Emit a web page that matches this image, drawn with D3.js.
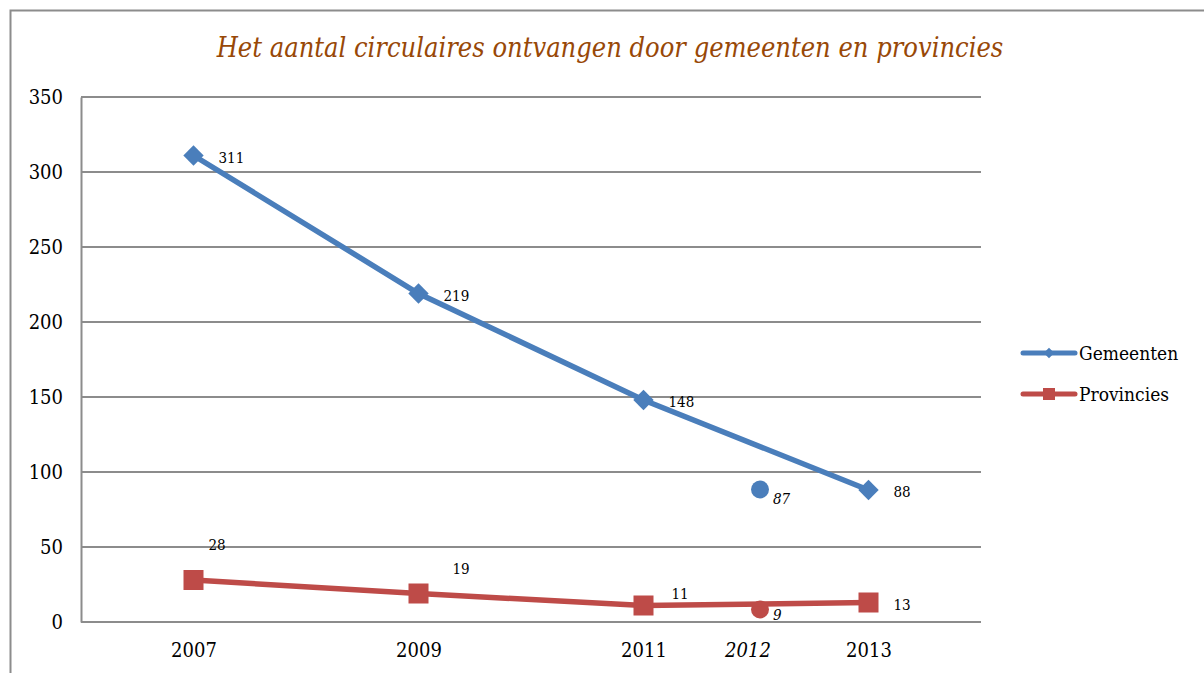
<!DOCTYPE html>
<html>
<head>
<meta charset="utf-8">
<script src="https://cdn.jsdelivr.net/npm/d3@7"></script>
<style>
  body { margin: 0; background: #fff; }
  svg text { font-family: "DejaVu Serif Condensed", "DejaVu Serif", serif; fill: #000; }
</style>
</head>
<body>
<div id="chart"></div>
<script>
const years = [2007, 2009, 2011, 2013];
const gemeenten = [311, 219, 148, 88];
const provincies = [28, 19, 11, 13];
const extraYear = 2012;
const extraGemeenten = 87;
const extraProvincies = 9;
const yTicks = [0, 50, 100, 150, 200, 250, 300, 350];
const seriesNames = ["Gemeenten", "Provincies"];

const width = 1204, height = 673;
const margin = { top: 97, right: 223, bottom: 51, left: 81 };

const svg = d3.select("#chart").append("svg")
    .attr("width", width)
    .attr("height", height);

// outer frame (only top and left edges are visible)
svg.append("path")
    .attr("d", `M10.5,${height} L10.5,10.5 L${width},10.5`)
    .attr("fill", "none")
    .attr("stroke", "#8c8c8c")
    .attr("stroke-width", 2);

svg.append("text")
    .attr("x", 610)
    .attr("y", 57)
    .attr("text-anchor", "middle")
    .attr("font-style", "italic")
    .attr("font-size", 27)
    .style("fill", "#984807")
    .text("Het aantal circulaires ontvangen door gemeenten en provincies");

const x = d3.scaleLinear()
    .domain([2006, 2014])
    .range([margin.left, width - margin.right]);

const y = d3.scaleLinear()
    .domain([0, 350])
    .range([height - margin.bottom, margin.top]);

// gridlines
svg.append("g")
    .selectAll("line")
    .data(yTicks)
    .join("line")
    .attr("x1", margin.left)
    .attr("x2", width - margin.right)
    .attr("y1", d => y(d))
    .attr("y2", d => y(d))
    .attr("stroke", "#8c8c8c")
    .attr("stroke-width", 2);

// y axis
const yAxis = svg.append("g")
    .attr("transform", `translate(${margin.left},0)`)
    .call(d3.axisLeft(y).tickValues(yTicks).tickSize(0).tickPadding(18));
yAxis.select(".domain").attr("stroke", "#8c8c8c").attr("stroke-width", 2);
yAxis.selectAll("text").attr("font-size", 20).style("font-family", null);

// x axis
const xAxis = svg.append("g")
    .attr("transform", `translate(0,${y(0)})`)
    .call(d3.axisBottom(x).tickValues(years).tickFormat(d3.format("d")).tickSize(0).tickPadding(21));
xAxis.select(".domain").remove();
xAxis.selectAll("text").attr("font-size", 20).style("font-family", null);

svg.append("text")
    .attr("x", x(extraYear) - 8)
    .attr("y", y(0) + 35)
    .attr("text-anchor", "middle")
    .attr("font-size", 20)
    .attr("font-style", "italic")
    .text(extraYear);

const colors = ["#4a7ebb", "#be4b48"];
const line = d3.line()
    .x((d, i) => x(years[i]))
    .y(d => y(d));

// extra 2012 points (drawn under the lines)
svg.append("circle")
    .attr("cx", x(extraYear) + 4)
    .attr("cy", y(extraGemeenten) - 2)
    .attr("r", 9)
    .attr("fill", colors[0]);
svg.append("circle")
    .attr("cx", x(extraYear) + 4)
    .attr("cy", y(extraProvincies) + 1)
    .attr("r", 9)
    .attr("fill", colors[1]);

[gemeenten, provincies].forEach((vals, s) => {
    svg.append("path")
        .datum(vals)
        .attr("fill", "none")
        .attr("stroke", colors[s])
        .attr("stroke-width", 5.5)
        .attr("d", line);
});

// markers
svg.append("g")
    .selectAll("rect")
    .data(gemeenten)
    .join("rect")
    .attr("x", -10)
    .attr("y", -10)
    .attr("width", 20)
    .attr("height", 20)
    .attr("fill", colors[0])
    .attr("transform", (d, i) => `translate(${x(years[i])},${y(d)}) rotate(45) scale(0.72)`);

svg.append("g")
    .selectAll("rect")
    .data(provincies)
    .join("rect")
    .attr("x", (d, i) => x(years[i]) - 10)
    .attr("y", d => y(d) - 10)
    .attr("width", 20)
    .attr("height", 20)
    .attr("fill", colors[1]);

// data labels
svg.append("g")
    .selectAll("text")
    .data(gemeenten)
    .join("text")
    .attr("x", (d, i) => x(years[i]) + 25)
    .attr("y", d => y(d) + 7)
    .attr("font-size", 15)
    .text(d => d);

const provOffsets = [[15, -30], [34, -20], [28, -7], [25, 7]];
svg.append("g")
    .selectAll("text")
    .data(provincies)
    .join("text")
    .attr("x", (d, i) => x(years[i]) + provOffsets[i][0])
    .attr("y", (d, i) => y(d) + provOffsets[i][1])
    .attr("font-size", 15)
    .text(d => d);

svg.append("text")
    .attr("x", x(extraYear) + 17)
    .attr("y", y(extraGemeenten) + 12)
    .attr("font-size", 15)
    .attr("font-style", "italic")
    .text(extraGemeenten);
svg.append("text")
    .attr("x", x(extraYear) + 17)
    .attr("y", y(extraProvincies) + 11)
    .attr("font-size", 15)
    .attr("font-style", "italic")
    .text(extraProvincies);

// legend
const legend = svg.append("g").attr("transform", "translate(1021,353)");
seriesNames.forEach((name, s) => {
    const g = legend.append("g").attr("transform", `translate(0,${s * 41})`);
    g.append("line")
        .attr("x1", 2).attr("x2", 54)
        .attr("stroke", colors[s])
        .attr("stroke-width", 5)
        .attr("stroke-linecap", "round");
    if (s === 0) {
        g.append("rect")
            .attr("x", -5).attr("y", -5).attr("width", 10).attr("height", 10)
            .attr("fill", colors[s])
            .attr("transform", "translate(28,0) rotate(45) scale(0.75)");
    } else {
        g.append("rect")
            .attr("x", 22).attr("y", -6).attr("width", 12).attr("height", 12)
            .attr("fill", colors[s]);
    }
    g.append("text")
        .attr("x", 58)
        .attr("y", 7)
        .attr("font-size", 19)
        .text(name);
});
</script>
</body>
</html>
